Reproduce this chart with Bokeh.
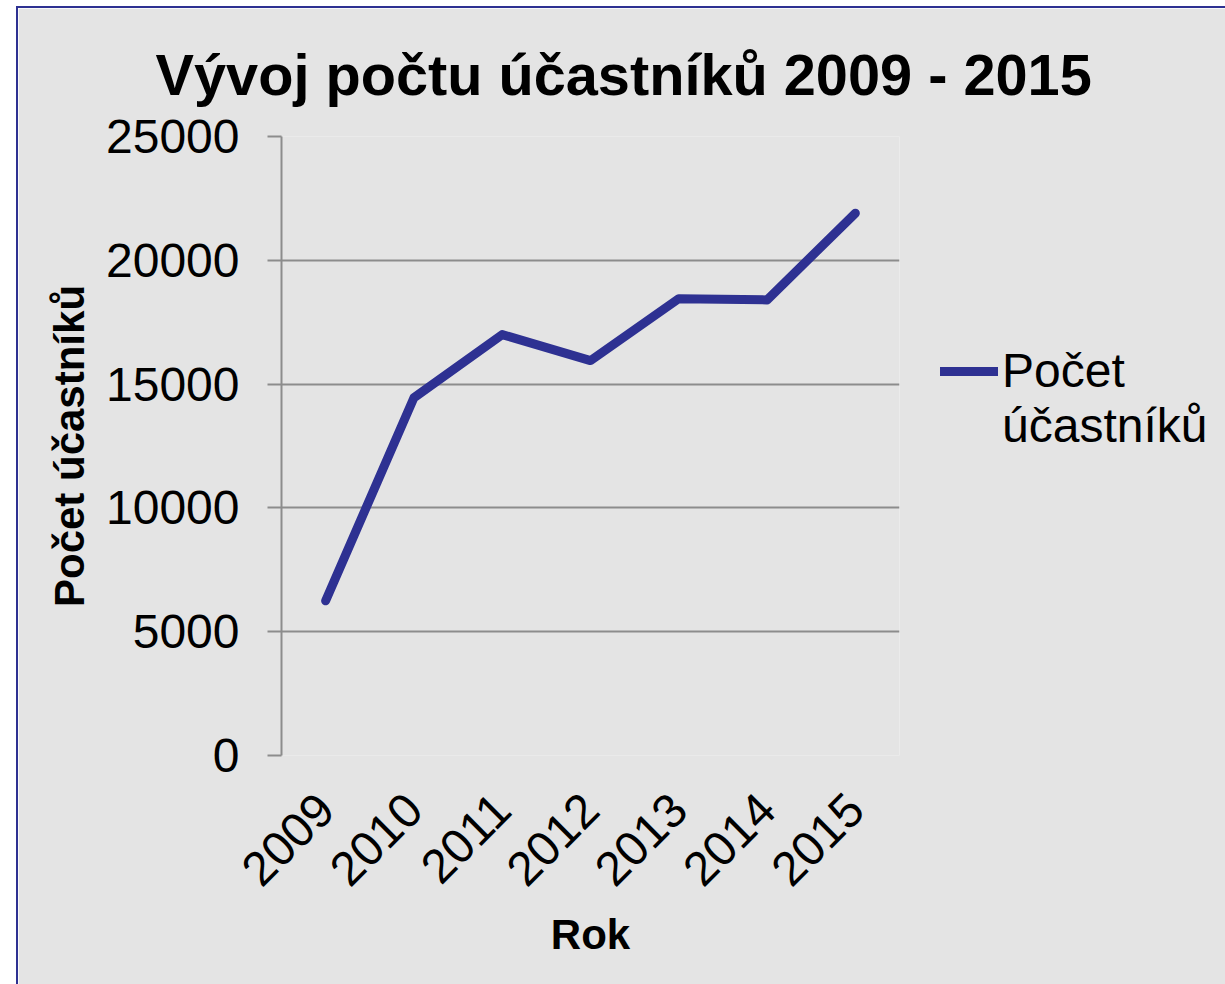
from bokeh.plotting import figure
from bokeh.models import Range1d, Legend, LegendItem, FixedTicker
from bokeh.embed import file_html
from bokeh.resources import INLINE
import math

years = ["2009", "2010", "2011", "2012", "2013", "2014", "2015"]
participants = [6250, 14450, 17000, 15950, 18450, 18400, 21900]
y_ticks = [0, 5000, 10000, 15000, 20000, 25000]

title_text = "Vývoj počtu účastníků 2009 - 2015"
x_label = "Rok"
y_label = "Počet účastníků"
series_label_lines = ["Počet", "účastníků"]

BG = "#e4e4e4"
LINE = "#2e3192"
GRID = "#8c8c8c"
FONT = "Liberation Sans"

p = figure(frame_width=618, frame_height=619, x_range=years, y_range=Range1d(0, 25000),
           output_backend="svg", toolbar_location=None,
           min_border_left=263, min_border_top=128, min_border_right=20, min_border_bottom=229)
p.styles = {"margin-left": "16px", "margin-top": "6px",
            "border-left": f"2px solid {LINE}", "border-top": f"2px solid {LINE}"}
p.background_fill_color = BG
p.border_fill_color = BG
p.outline_line_color = None

r = p.line(x=years, y=participants, line_color=LINE, line_width=9, line_cap="round", line_join="round")
# invisible companion so the second line of the legend label has no glyph
ghost = p.line(x=[], y=[], line_alpha=0)

p.title.text = title_text
p.title.text_font = FONT
p.title.text_font_style = "bold"
p.title.text_font_size = "57.7px"
p.title.text_color = "black"
p.title.align = "left"
p.title.offset = -126
p.title.standoff = 60

p.xgrid.grid_line_color = None
p.ygrid.grid_line_color = GRID
p.ygrid.grid_line_width = 2
p.yaxis.ticker = FixedTicker(ticks=y_ticks)
p.ygrid.ticker = FixedTicker(ticks=y_ticks)

ya = p.yaxis[0]
ya.axis_line_color = GRID
ya.axis_line_width = 2
ya.major_tick_line_color = GRID
ya.major_tick_line_width = 2
ya.major_tick_out = 14
ya.major_tick_in = 0
ya.minor_tick_line_color = None
ya.major_label_text_font = FONT
ya.major_label_text_font_size = "48px"
ya.major_label_text_color = "black"
ya.major_label_standoff = 28
ya.axis_label = y_label
ya.axis_label_text_font = FONT
ya.axis_label_text_font_style = "bold"
ya.axis_label_text_font_size = "42px"
ya.axis_label_text_color = "black"
ya.axis_label_standoff = 10

xa = p.xaxis[0]
xa.axis_line_color = None
xa.major_tick_line_color = None
xa.minor_tick_line_color = None
xa.major_label_orientation = math.pi / 4
xa.major_label_text_font = FONT
xa.major_label_text_font_size = "48px"
xa.major_label_text_color = "black"
xa.major_label_standoff = 40
xa.axis_label = x_label
xa.axis_label_text_font = FONT
xa.axis_label_text_font_style = "bold"
xa.axis_label_text_font_size = "42px"
xa.axis_label_text_color = "black"
xa.axis_label_standoff = 8

legend = Legend(items=[LegendItem(label=series_label_lines[0], renderers=[r]),
                       LegendItem(label=series_label_lines[1], renderers=[ghost])],
                location=(41, 302))
legend.label_text_font = FONT
legend.label_text_font_size = "48px"
legend.label_text_color = "black"
legend.glyph_width = 58
legend.glyph_height = 20
legend.label_standoff = 4
legend.spacing = -2
legend.border_line_color = None
legend.background_fill_alpha = 0
legend.margin = 0
legend.padding = 0
p.add_layout(legend, "right")

html = file_html(p, INLINE)
html = html.replace("<body>", f'<body style="margin:0;background:{BG};">', 1)
open("out.html", "w").write(html)
